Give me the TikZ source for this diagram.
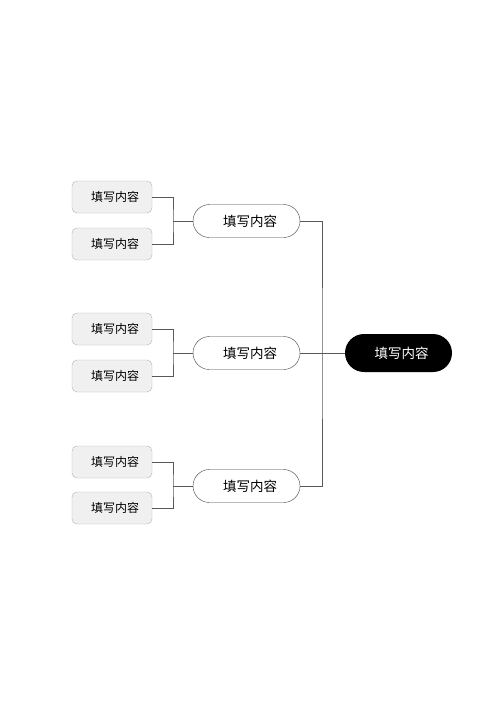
\documentclass[tikz,border=0pt]{standalone}
\usepackage{fontspec}
\newfontfamily\cjk{Noto Sans CJK SC}

\tikzset{
	leaf/.style = {draw = black!30, fill = black!6, rounded corners = 5pt, minimum width = 80pt, minimum height = 32pt, inner sep = 0, font = \cjk\fontsize{12}{14}\selectfont},
	topic/.style = {draw = black!75, fill = white, rounded corners = 16.5pt, minimum width = 107pt, minimum height = 33pt, inner sep = 0, font = \cjk\fontsize{13.5}{16}\selectfont},
	root/.style = {fill = black, text = white, rounded corners = 19pt, minimum width = 107pt, minimum height = 38pt, inner sep = 0, font = \cjk\fontsize{13.5}{16}\selectfont},
	link/.style = {draw = black!65, line width = 1pt}
}

\begin{document}
\begin{tikzpicture}[x = 1pt, y = -1pt]

	\useasboundingbox (0, 0) rectangle (500, 707);

	\node [root] (hub) at (398.5, 353) {\hspace*{6pt}填写内容};

	\foreach \i/\y/\a/\b in {1/221/197/244, 2/353/329/376, 3/486/462/508} {

		\node [topic] (mid\i) at (246.5, \y) {\hspace*{7pt}填写内容};
		\node [leaf] (up\i) at (112, \a) {\hspace*{6pt}填写内容};
		\node [leaf] (low\i) at (112, \b) {\hspace*{6pt}填写内容};

		\coordinate (fork\i) at (173, \y);
		\draw [link] (up\i.east) -| (fork\i) |- (low\i.east);
		\draw [link] (fork\i) -- (mid\i.west);

	}

	% trunk to the black hub
	\coordinate (trunk) at (322, 353);
	\draw [link] (mid1.east) -| (trunk) |- (mid3.east);
	\draw [link] (mid2.east) -- (hub.west);

\end{tikzpicture}
\end{document}
